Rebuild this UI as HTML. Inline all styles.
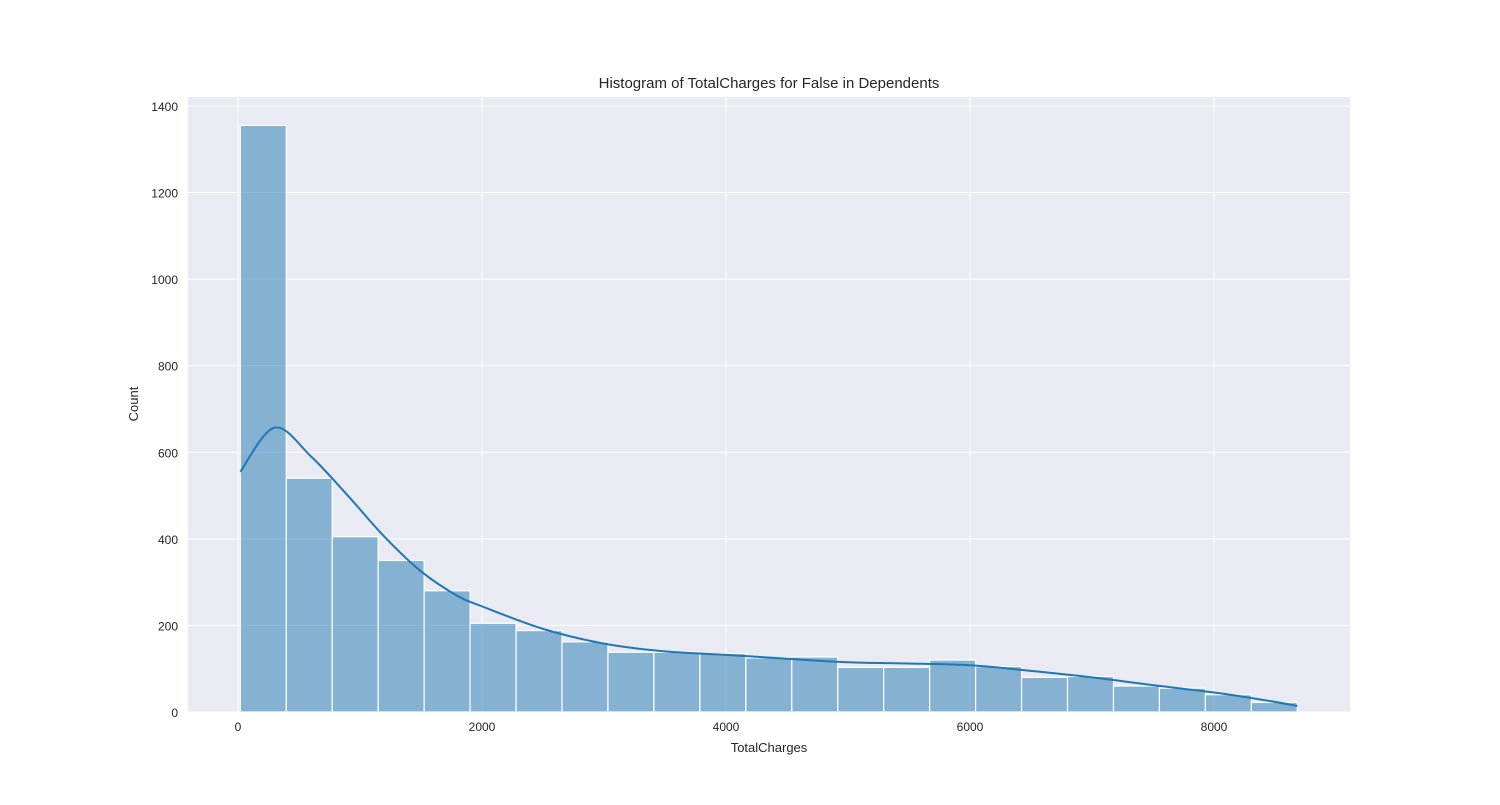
<!DOCTYPE html>
<html><head><meta charset="utf-8"><style>
body{margin:0;background:#fff;font-family:"Liberation Sans","DejaVu Sans",sans-serif}
svg text{font-family:"Liberation Sans","DejaVu Sans",sans-serif;fill:#262626}
</style></head><body>
<svg id="chart" width="1500" height="800" viewBox="0 0 1500 800">
<rect x="188" y="97" width="1162" height="615" fill="#eaeaf2"/>
<g id="grid"></g><g id="bars"></g><g id="kde"></g><g id="ticks"></g>
<text x="769" y="88" text-anchor="middle" font-size="15">Histogram of TotalCharges for False in Dependents</text>
<text x="769" y="752" text-anchor="middle" font-size="13">TotalCharges</text>
<text transform="translate(138,404) rotate(-90)" text-anchor="middle" font-size="13">Count</text>
</svg>
<script>
const binStart = 18.8;
const binWidth = 376.7;
const counts = [1355,540,405,350,280,205,188,162,138,138,135,125,127,103,103,120,105,80,82,60,55,40,22];
const kdeX = [18.8,300,600,900,1200,1500,1800,2000,2500,3000,3500,4000,4500,5000,5500,6000,6500,7000,7500,8000,8400,8684];
const kdeY = [555,657,590,500,405,325,268,244,192,158,140,132,123,115,112,108,95,80,62,45,28,14];
const xTicks = [0,2000,4000,6000,8000];
const yTicks = [0,200,400,600,800,1000,1200,1400];
const NS='http://www.w3.org/2000/svg';
const X=v=>238+v*0.122;
const Y=v=>712-v*0.4329;
function mk(t,a,p){const e=document.createElementNS(NS,t);for(const k in a)e.setAttribute(k,a[k]);p.appendChild(e);return e;}
const grid=document.getElementById('grid'),bars=document.getElementById('bars'),kde=document.getElementById('kde'),ticks=document.getElementById('ticks');
xTicks.forEach(v=>{
 const l=mk('line',{x1:X(v),x2:X(v),y1:97,y2:712,stroke:'#fff','stroke-width':1},grid);
 
 
 const t=mk('text',{x:X(v),y:731,'text-anchor':'middle','font-size':12},ticks);t.textContent=v;
 
 
});
yTicks.forEach(v=>{
 const l=mk('line',{x1:188,x2:1350,y1:Y(v),y2:Y(v),stroke:'#fff','stroke-width':1},grid);
 
 
 const t=mk('text',{x:178,y:Y(v)+5,'text-anchor':'end','font-size':12},ticks);t.textContent=v;
 
 
});
counts.forEach((c,i)=>{
 const x0=X(binStart+i*binWidth),x1=X(binStart+(i+1)*binWidth);
 const r=mk('rect',{x:x0,y:Y(c),width:x1-x0,height:Y(0)-Y(c),fill:'rgba(31,119,180,0.5)',stroke:'#fff','stroke-width':1.2},bars);
 
 
});
const pts=kdeX.map((v,i)=>[X(v),Y(kdeY[i])]);
let d='M'+pts[0][0]+','+pts[0][1];
for(let i=0;i<pts.length-1;i++){
 const p0=pts[Math.max(0,i-1)],p1=pts[i],p2=pts[i+1],p3=pts[Math.min(pts.length-1,i+2)];
 d+=' C'+(p1[0]+(p2[0]-p0[0])/6)+','+(p1[1]+(p2[1]-p0[1])/6)+' '+(p2[0]-(p3[0]-p1[0])/6)+','+(p2[1]-(p3[1]-p1[1])/6)+' '+p2[0]+','+p2[1];
}
const k=mk('path',{d:d,fill:'none',stroke:'#1f77b4','stroke-width':2},kde);


</script>
</body></html>
